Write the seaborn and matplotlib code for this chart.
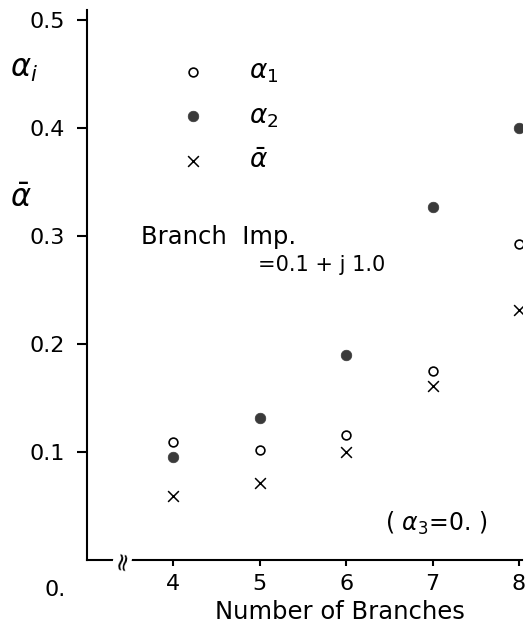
import matplotlib
matplotlib.use("Agg")
import matplotlib.pyplot as plt
import seaborn as sns
import pandas as pd

# values
branches = [4, 5, 6, 7, 8]
alpha1 = [0.109, 0.102, 0.116, 0.175, 0.292]
alpha2 = [0.095, 0.131, 0.190, 0.327, 0.400]
alpha_bar = [0.059, 0.071, 0.100, 0.161, 0.231]
y_ticks = [0.1, 0.2, 0.3, 0.4, 0.5]
y_tick_labels = ["0.1", "0.2", "0.3", "0.4", "0.5"]

df = pd.DataFrame({"n": branches, "a1": alpha1, "a2": alpha2, "abar": alpha_bar})

sns.set_style("ticks")
plt.rcParams["font.family"] = ["DejaVu Sans"]
plt.rcParams["mathtext.fontset"] = "dejavusans"
for key in ["text.color", "axes.labelcolor", "xtick.color", "ytick.color",
            "axes.edgecolor"]:
    plt.rcParams[key] = "black"

fig = plt.figure(figsize=(5.28, 6.36), dpi=100)
ax = fig.add_axes([0.1648, 0.1195, 0.823, 0.865])

sns.scatterplot(data=df, x="n", y="a1", ax=ax, marker="o", s=40,
                facecolor="white", edgecolor="black", linewidth=1.2,
                label=r"$\alpha_1$")
sns.scatterplot(data=df, x="n", y="a2", ax=ax, marker="o", s=58,
                color="#3a3a3a", edgecolor="#3a3a3a", linewidth=0.5,
                label=r"$\alpha_2$")
sns.scatterplot(data=df, x="n", y="abar", ax=ax, marker="x", s=60,
                color="black", linewidth=1.1, label=r"$\bar{\alpha}$")

ax.set_xlim(3, 8.03)
ax.set_ylim(0, 0.509)
ax.set_xticks(branches)
ax.set_xticklabels([str(b) for b in branches], fontsize=16)
ax.set_yticks(y_ticks)
ax.set_yticklabels(y_tick_labels, fontsize=16)
ax.tick_params(axis="y", direction="out", length=7, width=1.5, pad=9)
ax.tick_params(axis="x", direction="out", length=4, width=1.5, pad=6)
for side in ["top", "right"]:
    ax.spines[side].set_visible(False)
for side in ["left", "bottom"]:
    ax.spines[side].set_linewidth(1.5)

ax.set_ylabel("")
ax.set_xlabel("Number of Branches", fontsize=17.5)
ax.xaxis.set_label_coords(0.582, -0.073)

leg = ax.legend(loc="upper left", bbox_to_anchor=(0.19, 0.93), frameon=False,
                fontsize=19, labelspacing=0.68, handletextpad=1.6,
                borderaxespad=0, handlelength=1.0)

ax.text(3.62, 0.299, "Branch  Imp.", fontsize=17.5, va="center")
ax.text(4.98, 0.273, "=0.1 + j 1.0", fontsize=15, va="center")
ax.text(6.45, 0.034, r"( $\alpha_3$=0. )", fontsize=17, va="center")
# axis break on the x axis
ax.text(3.41, 0.0, "≈", fontsize=18, rotation=80, ha="center", va="center",
        bbox=dict(facecolor="white", edgecolor="none", pad=-2))

fig.text(0.018, 0.89, r"$\alpha_i$", fontsize=22, va="center")
fig.text(0.018, 0.688, r"$\bar{\alpha}$", fontsize=22, va="center")
fig.text(0.085, 0.072, "0.", fontsize=16, va="center")

fig.savefig("out.png", dpi=100, facecolor="white")
